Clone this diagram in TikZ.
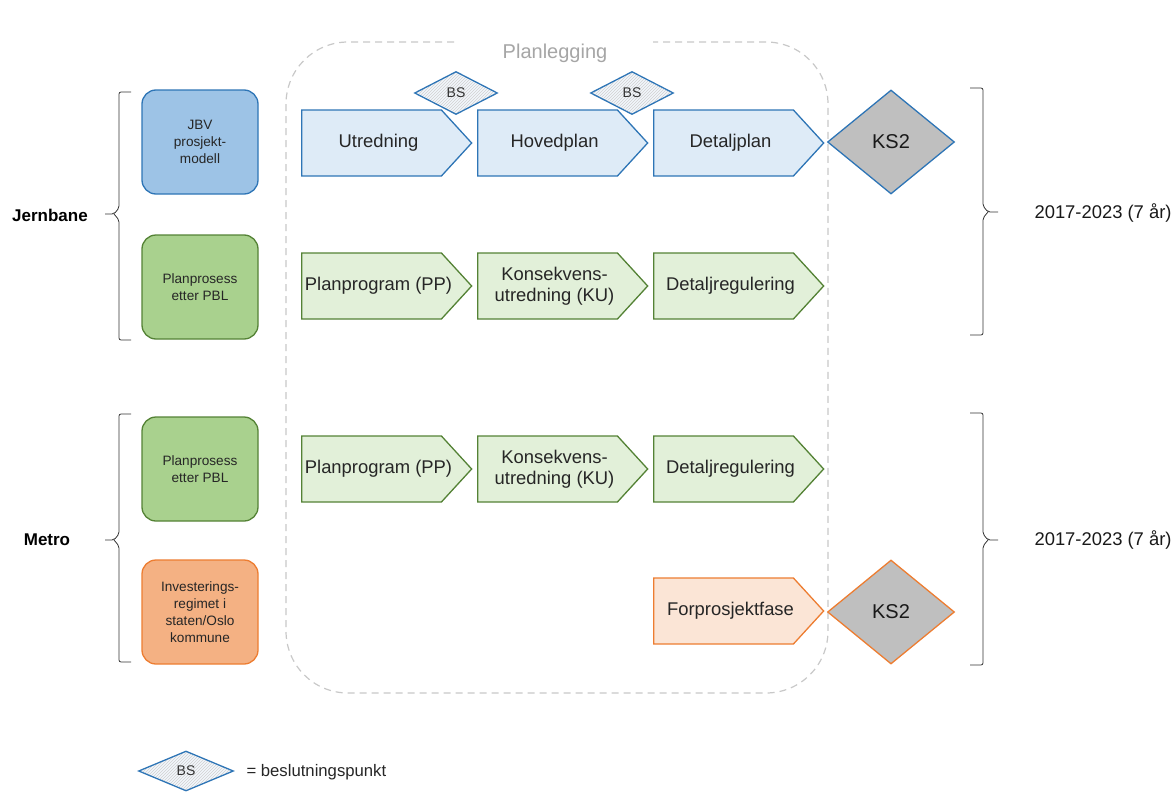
\documentclass[tikz,border=0pt]{standalone}
\usepackage{fontspec}
\setmainfont{Liberation Sans}
\usetikzlibrary{shapes.geometric,shapes.symbols,patterns}
\definecolor{bstroke}{HTML}{2E75B6}
\definecolor{bfill}{HTML}{9DC3E6}
\definecolor{blight}{HTML}{DEEBF7}
\definecolor{gstroke}{HTML}{548235}
\definecolor{gfill}{HTML}{A9D18E}
\definecolor{glight}{HTML}{E2F0D9}
\definecolor{ostroke}{HTML}{ED7D31}
\definecolor{ofill}{HTML}{F4B183}
\definecolor{olight}{HTML}{FBE5D6}
\definecolor{ksgray}{HTML}{BFBFBF}
\definecolor{frame}{HTML}{C8C8C8}
\tikzset{
  sidebox/.style={draw, line width=1.3pt, rounded corners=14pt, minimum width=116pt,
    minimum height=104pt, align=center, font=\fontsize{13.6}{17}\selectfont, text=black!85},
  phase/.style={signal, signal to=east, signal pointer angle=95, draw, line width=1.3pt,
    minimum width=170pt, minimum height=66pt, inner sep=0pt, anchor=west},
  phasetext/.style={align=center, inner sep=0pt, font=\fontsize{18.4}{20.5}\selectfont, text=black!85},
  bluephase/.style={phase, draw=bstroke, fill=blight},
  greenphase/.style={phase, draw=gstroke, fill=glight},
  orangephase/.style={phase, draw=ostroke, fill=olight},
  ksdia/.style={diamond, draw, line width=1.3pt, fill=ksgray, minimum width=127pt,
    minimum height=104pt, inner sep=0pt, font=\fontsize{20}{22}\selectfont, text=black!90},
  bsdia/.style={diamond, draw=bstroke, line width=1.3pt, preaction={fill=blight!40},
    pattern=north east lines, pattern color=black!18, minimum width=83pt,
    minimum height=43pt, inner sep=0pt, font=\fontsize{14}{16}\selectfont, text=black!80},
  brace/.style={black!80, line width=0.8pt, rounded corners=2pt},
  grouplabel/.style={font=\bfseries\fontsize{17}{19}\selectfont},
  periodlabel/.style={font=\fontsize{18.4}{20}\selectfont, anchor=west, text=black!90},
}
% a phase arrow: style, name, x, y, label
\newcommand\phasenode[5]{%
  \node[#1] (#2) at (#3,#4) {};
  \node[phasetext] (#2-txt) at ([xshift=7pt]#2.center) {#5};}
\begin{document}
\begin{tikzpicture}[x=1pt, y=-1pt]
\useasboundingbox (0,0) rectangle (1175,792);

% planning frame
\draw[frame, line width=1.2pt, dash pattern=on 7pt off 5pt, rounded corners=62pt]
  (286,42) rectangle (828,693);
\node[text=black!35, fill=white, inner xsep=46pt, font=\fontsize{20}{22}\selectfont] (plan) at (555,53) {Planlegging};

% left column boxes
\node[sidebox, draw=bstroke, fill=bfill] (jbv) at (200,142) {JBV\\prosjekt-\\modell};
\node[sidebox, draw=gstroke, fill=gfill] (pbl1) at (200,287) {Planprosess\\etter PBL};
\node[sidebox, draw=gstroke, fill=gfill] (pbl2) at (200,469) {Planprosess\\etter PBL};
\node[sidebox, draw=ostroke, fill=ofill] (inv) at (200,612) {Investerings-\\regimet i\\staten/Oslo\\kommune};

% railway phases
\phasenode{bluephase}{utr}{301}{143}{Utredning}
\phasenode{bluephase}{hov}{477}{143}{Hovedplan}
\phasenode{bluephase}{det}{653}{143}{Detaljplan}
\node[ksdia, draw=bstroke] (ks1) at (891,142) {KS2};
\node[bsdia] (bs1) at (456,93) {BS};
\node[bsdia] (bs2) at (632,93) {BS};

% zoning phases (railway)
\phasenode{greenphase}{pp1}{301}{286}{Planprogram (PP)}
\phasenode{greenphase}{ku1}{477}{286}{Konsekvens-\\utredning (KU)}
\phasenode{greenphase}{dr1}{653}{286}{Detaljregulering}

% zoning phases (metro)
\phasenode{greenphase}{pp2}{301}{469}{Planprogram (PP)}
\phasenode{greenphase}{ku2}{477}{469}{Konsekvens-\\utredning (KU)}
\phasenode{greenphase}{dr2}{653}{469}{Detaljregulering}

% metro pre-project
\phasenode{orangephase}{forp}{653}{611}{Forprosjektfase}
\node[ksdia, draw=ostroke] (ks2) at (891,612) {KS2};

% left braces and group labels
\draw[brace] (131,92) -- (119,92) -- (119,208) -- (114,214) -- (105,214)
  (114,214) -- (119,220) -- (119,340) -- (131,340);
\node[grouplabel] (jern) at (50,215) {Jernbane};
\draw[brace] (131,414) -- (119,414) -- (119,534) -- (114,540) -- (105,540)
  (114,540) -- (119,546) -- (119,662) -- (131,662);
\node[grouplabel] (metro) at (47,540) {Metro};

% right braces and periods
\draw[brace] (970,88) -- (983,88) -- (983,206) -- (988,212) -- (998,212)
  (988,212) -- (983,218) -- (983,335) -- (970,335);
\node[periodlabel] (per1) at (1031,213) {2017-2023 (7 år)};
\draw[brace] (970,413) -- (983,413) -- (983,534) -- (988,540) -- (998,540)
  (988,540) -- (983,546) -- (983,665) -- (970,665);
\node[periodlabel] (per2) at (1031,540) {2017-2023 (7 år)};

% legend
\node[bsdia, minimum width=95pt, minimum height=40pt] (bsleg) at (186,771) {BS};
\node[anchor=west, font=\fontsize{16.7}{18}\selectfont, text=black!85] (leg) at (243,772) {= beslutningspunkt};
\end{tikzpicture}
\end{document}
